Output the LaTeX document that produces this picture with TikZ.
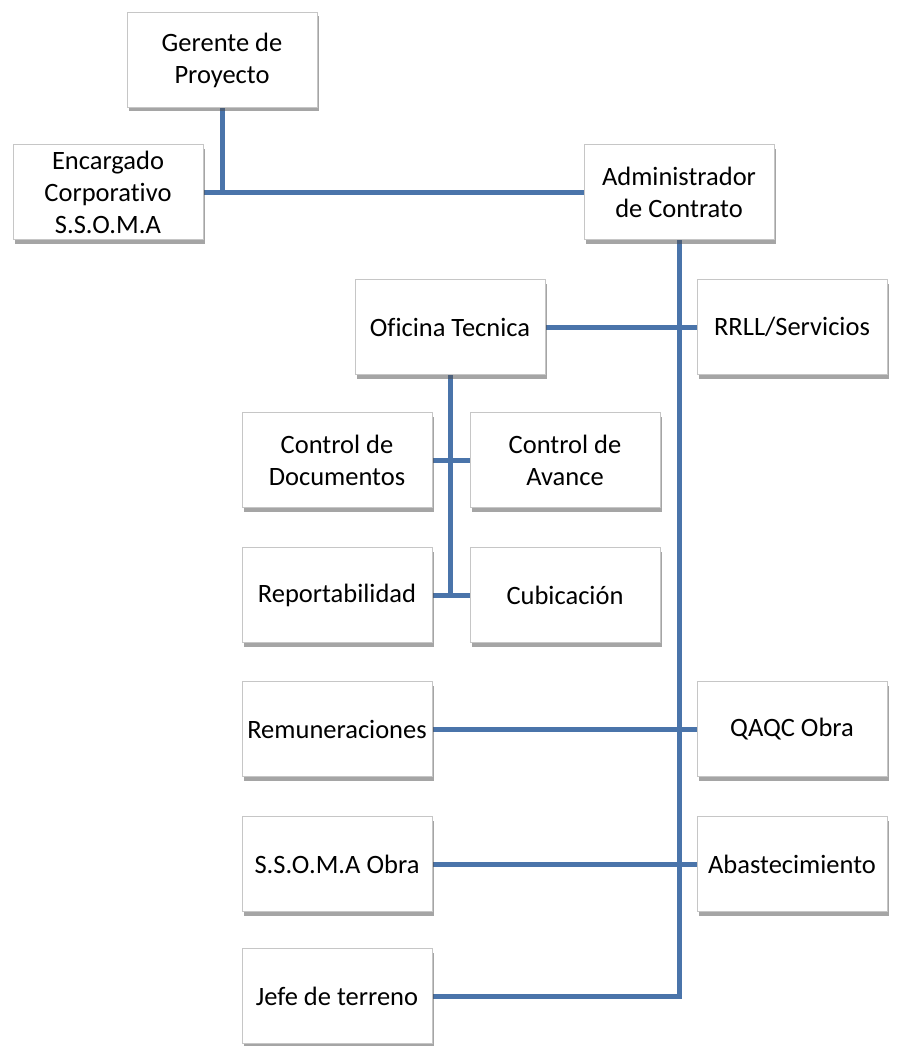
\documentclass[tikz,border=0pt]{standalone}
\usepackage{fontspec}
\setmainfont{Carlito}[Ligatures=NoCommon]
\usetikzlibrary{shadows}
\definecolor{orgblue}{HTML}{4A74AA}
\begin{document}
\begin{tikzpicture}[x=1pt,y=-1pt,
    cargo/.style={draw=gray!45,fill=white,minimum width=190pt,minimum height=95pt,
      align=center,inner sep=2pt,font=\fontsize{26.5}{32}\selectfont,
      drop shadow={shadow xshift=1.5pt,shadow yshift=-4pt,opacity=0.5,fill=black!70}},
    enlace/.style={orgblue,line width=5pt}]

      \useasboundingbox (0,0) rectangle (899,1046);

      \coordinate (G) at (222,60);
      \coordinate (E) at (108,192);
      \coordinate (A) at (679,192);
      \coordinate (OT) at (450,327);
      \coordinate (RS) at (792,327);

      \draw[enlace] (E)--(A);
      \draw[enlace] (G)--(G|-E);
      \draw[enlace] (A)--(679,996)--(337,996);
      \draw[enlace] (OT)--(RS);
      \draw[enlace] (OT)--(450,595);
      \draw[enlace] (337,460)--(565,460);
      \draw[enlace] (337,595)--(565,595);
      \draw[enlace] (337,729)--(792,729);
      \draw[enlace] (337,864)--(792,864);

      \node[cargo] (gerente) at (G) {Gerente de\\Proyecto};
      \node[cargo] (encargado) at (E) {Encargado\\Corporativo\\S.S.O.M.A};
      \node[cargo] (admin) at (A) {Administrador\\de Contrato};
      \node[cargo] (oficina) at (OT) {Oficina Tecnica};
      \node[cargo] (rrll) at (RS) {RRLL/Servicios};
      \node[cargo] (documentos) at (337,460) {Control de\\Documentos};
      \node[cargo] (avance) at (565,460) {Control de\\Avance};
      \node[cargo] (reporte) at (337,595) {Reportabilidad};
      \node[cargo] (cubicacion) at (565,595) {Cubicación};
      \node[cargo] (remuneraciones) at (337,729) {Remuneraciones};
      \node[cargo] (qaqc) at (792,729) {QAQC Obra};
      \node[cargo] (ssoma) at (337,864) {S.S.O.M.A Obra};
      \node[cargo] (abastecimiento) at (792,864) {Abastecimiento};
      \node[cargo] (jefe) at (337,996) {Jefe de terreno};
  \end{tikzpicture}
\end{document}
